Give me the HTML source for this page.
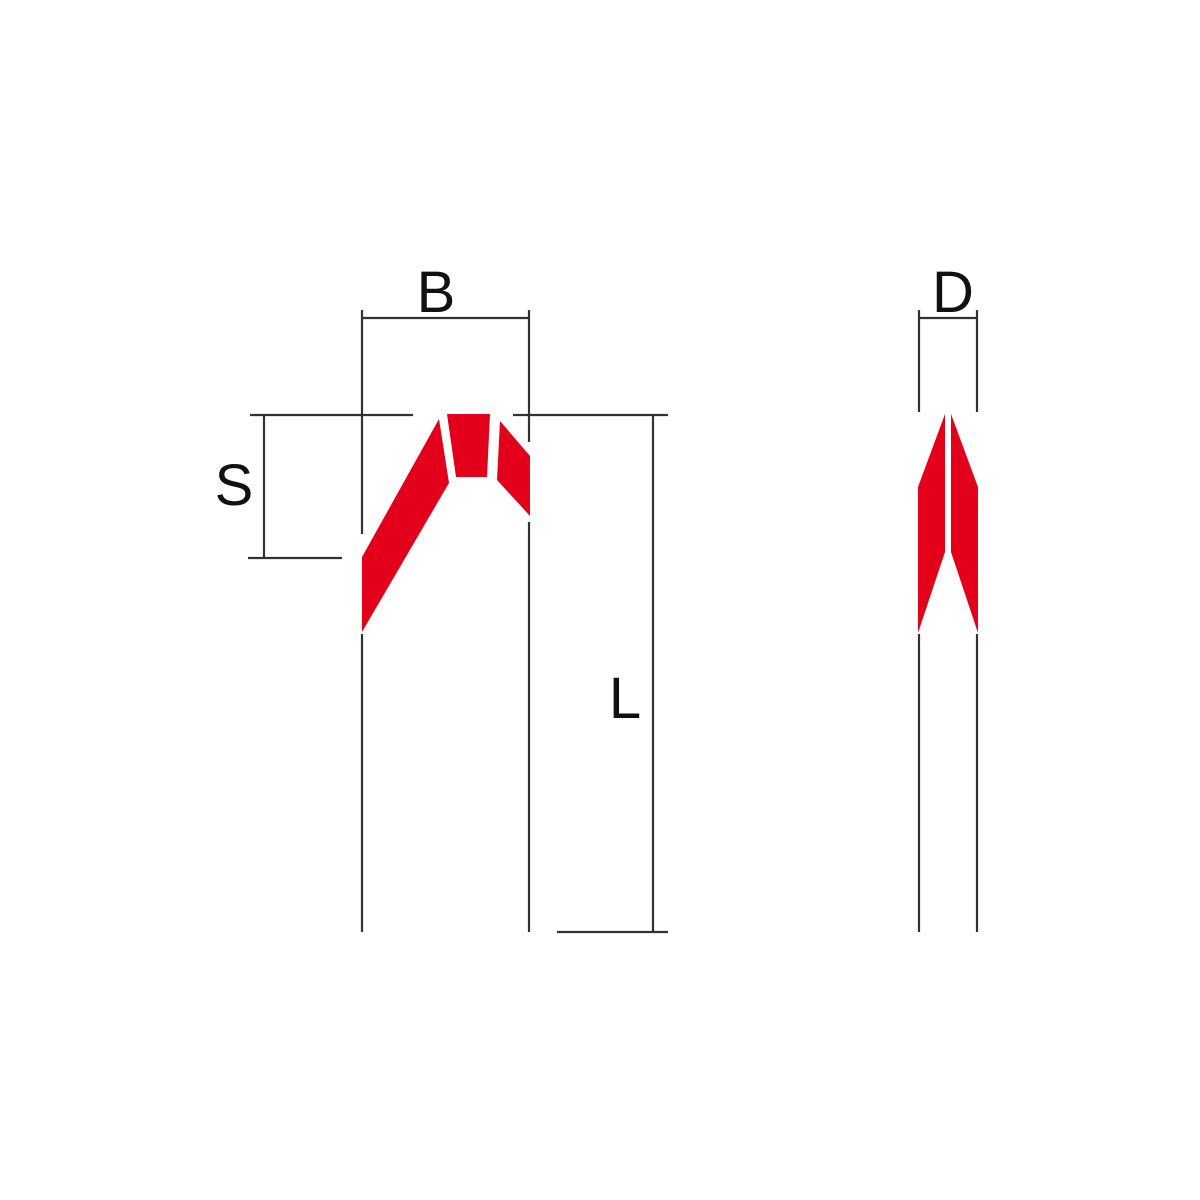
<!DOCTYPE html>
<html><head><style>body{margin:0;background:#fff}svg{display:block}</style></head><body>
<svg width="1200" height="1200" viewBox="0 0 1200 1200" xmlns="http://www.w3.org/2000/svg">
<g stroke="#333" stroke-width="2.2" fill="none">
<line x1="362" y1="310" x2="362" y2="534"/>
<line x1="362" y1="634" x2="362" y2="932"/>
<line x1="529" y1="310" x2="529" y2="442"/>
<line x1="529" y1="522" x2="529" y2="932"/>
<line x1="362" y1="318" x2="529" y2="318"/>
<line x1="250" y1="415" x2="413" y2="415"/>
<line x1="513" y1="415" x2="668" y2="415"/>
<line x1="264" y1="415" x2="264" y2="558"/>
<line x1="248" y1="558" x2="342" y2="558"/>
<line x1="653" y1="415" x2="653" y2="932"/>
<line x1="557" y1="932" x2="668" y2="932"/>
<line x1="919" y1="310" x2="919" y2="412"/>
<line x1="977" y1="310" x2="977" y2="412"/>
<line x1="919" y1="318" x2="977" y2="318"/>
<line x1="919" y1="634" x2="919" y2="932"/>
<line x1="977" y1="634" x2="977" y2="932"/>
</g>
<g fill="#e2001a">
<polygon points="362,557 439,419 449,483 362,632"/>
<polygon points="447,414 490,414 487,477 456,477"/>
<polygon points="500,421 530,456 530,516 497,480"/>
<polygon points="918,487 945,414 945,552 918,633"/>
<polygon points="951,414 978,487 978,633 951,552"/>
</g>
<g font-family="Liberation Sans, sans-serif" font-size="58" fill="#111" text-anchor="middle">
<text x="436" y="312">B</text>
<text x="953" y="312">D</text>
<text x="234" y="505">S</text>
<text x="625" y="718">L</text>
</g>
</svg>
</body></html>
